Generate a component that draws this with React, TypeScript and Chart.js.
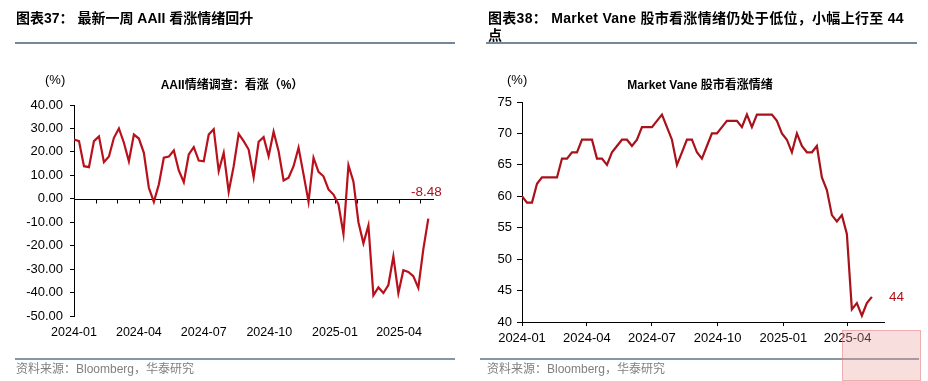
import React, { useEffect, useRef } from "react";
import { Chart, registerables } from "chart.js";

Chart.register(...registerables);

// ---------------- data ----------------
const aaiiStart = "2024-01-01";
const aaiiBullBear = [
  25.3, 24.6, 13.9, 13.5, 24.6, 26.6, 15.6, 18.0, 26.0, 30.0,
  23.9, 16.0, 27.4, 25.7, 19.6, 4.7, -1.3, 6.1, 17.5, 18.0,
  20.6, 12.1, 7.1, 18.9, 22.0, 16.3, 16.0, 27.4, 29.7, 11.8,
  19.6, 3.0, 13.9, 27.7, 24.6, 21.0, 9.2, 24.3, 26.3, 18.2,
  28.6, 20.3, 7.8, 9.0, 13.9, 21.8, 10.4, -1.3, 17.5, 11.5,
  9.6, 4.0, 1.8, -2.4, -15.0, 14.3, 7.3, -10.0, -19.0, -11.4,
  -41.2, -37.8, -40.2, -36.8, -24.6, -40.3, -30.5, -31.2, -33.0, -38.0,
  -21.6, -8.48,
];

const mvStart = "2024-01-01";
const marketVane = [
  60, 59, 59, 62, 63, 63, 63, 63, 66, 66,
  67, 67, 69, 69, 69, 66, 66, 65, 67, 68,
  69, 69, 68, 69, 71, 71, 71, 72, 73, 71,
  69, 65, 67, 69, 69, 67, 66, 68, 70, 70,
  71, 72, 72, 72, 71, 73, 71, 73, 73, 73,
  73, 72, 70, 69, 67, 70, 68, 67, 67, 68,
  63, 61, 57, 56, 57, 54, 42, 43, 41, 43,
  44,
];

const quarterTicks = ["2024-01", "2024-04", "2024-07", "2024-10", "2025-01", "2025-04"];
const monthTicks = [
  "2024-01", "2024-02", "2024-03", "2024-04", "2024-05", "2024-06", "2024-07", "2024-08",
  "2024-09", "2024-10", "2024-11", "2024-12", "2025-01", "2025-02", "2025-03", "2025-04", "2025-05",
];
const aaiiYTicks = [40, 30, 20, 10, 0, -10, -20, -30, -40, -50];
const mvYTicks = [75, 70, 65, 60, 55, 50, 45, 40];

// ---------------- helpers ----------------
const EPOCH = Date.UTC(2024, 0, 1);
function dayOf(s: string): number {
  const [y, m, d] = s.split("-").map(Number);
  return (Date.UTC(y, m - 1, d || 1) - EPOCH) / 86400000;
}
function weekly(start: string, n: number): number[] {
  const s = dayOf(start);
  const out: number[] = [];
  for (let i = 0; i < n; i++) out.push(s + 7 * i);
  return out;
}
function labelOf(v: number): string {
  const hit = quarterTicks.find((q) => Math.abs(dayOf(q) - v) < 0.5);
  return hit || "";
}

const FONT = '"Liberation Sans", "Noto Sans CJK SC", Arial, sans-serif';
const RED_L = "#B8111B";
const RED_R = "#A8121A";

const zeroLine = {
  id: "zeroLine",
  beforeDatasetsDraw(chart: any) {
    const { ctx, chartArea, scales } = chart;
    const x = scales.x;
    const y = scales.y;
    const y0 = Math.round(y.getPixelForValue(0)) + 0.5;
    ctx.save();
    ctx.strokeStyle = "#000";
    ctx.lineWidth = 1;
    ctx.beginPath();
    ctx.moveTo(chartArea.left, y0);
    ctx.lineTo(chartArea.right, y0);
    monthTicks.forEach((m) => {
      const px = Math.round(x.getPixelForValue(dayOf(m))) + 0.5;
      ctx.moveTo(px, y0);
      ctx.lineTo(px, y0 + 4);
    });
    ctx.stroke();
    ctx.restore();
  },
};

function useChart(ref: React.RefObject<HTMLCanvasElement>, make: () => any) {
  useEffect(() => {
    if (!ref.current) return;
    const chart = new Chart(ref.current, make());
    return () => chart.destroy();
  }, []);
}

export default function App() {
  const leftRef = useRef<HTMLCanvasElement>(null);
  const rightRef = useRef<HTMLCanvasElement>(null);

  useChart(leftRef, () => {
    const xs = weekly(aaiiStart, aaiiBullBear.length);
    return {
      type: "line",
      data: {
        datasets: [
          {
            data: aaiiBullBear.map((v, i) => ({ x: xs[i], y: v })),
            borderColor: RED_L,
            borderWidth: 2.2,
            pointRadius: 0,
            tension: 0,
            fill: false,
          },
        ],
      },
      options: {
        responsive: false,
        animation: false,
        layout: { padding: { left: 0, top: 105, right: 30, bottom: 35 } },
        plugins: { legend: { display: false }, tooltip: { enabled: false }, title: { display: false } },
        scales: {
          x: {
            type: "linear",
            min: 0,
            max: 505,
            afterBuildTicks: (s: any) => {
              s.ticks = quarterTicks.map((q) => ({ value: dayOf(q) }));
            },
            afterFit: (s: any) => {
              s.height = 30;
            },
            ticks: {
              autoSkip: false,
              maxRotation: 0,
              padding: 9,
              color: "#000",
              font: { family: FONT, size: 12.5 },
              callback: (v: number) => labelOf(v),
            },
            grid: { display: false, drawTicks: false },
            border: { display: false },
          },
          y: {
            type: "linear",
            min: -50,
            max: 40,
            afterBuildTicks: (s: any) => {
              s.ticks = aaiiYTicks.map((v) => ({ value: v }));
            },
            afterFit: (s: any) => {
              s.width = 74;
            },
            ticks: {
              padding: 7,
              color: "#000",
              font: { family: FONT, size: 13 },
              callback: (v: number) => Number(v).toFixed(2),
            },
            grid: { drawOnChartArea: false, drawTicks: true, tickLength: 4, tickColor: "#000", color: "#000" },
            border: { display: true, color: "#000", width: 1 },
          },
        },
      },
      plugins: [zeroLine],
    };
  });

  useChart(rightRef, () => {
    const xs = weekly(mvStart, marketVane.length);
    return {
      type: "line",
      data: {
        datasets: [
          {
            data: marketVane.map((v, i) => ({ x: xs[i], y: v })),
            borderColor: RED_R,
            borderWidth: 2.2,
            pointRadius: 0,
            tension: 0,
            fill: false,
          },
        ],
      },
      options: {
        responsive: false,
        animation: false,
        layout: { padding: { left: 0, top: 102, right: 44, bottom: 29 } },
        plugins: { legend: { display: false }, tooltip: { enabled: false }, title: { display: false } },
        scales: {
          x: {
            type: "linear",
            min: 0,
            max: 507,
            afterBuildTicks: (s: any) => {
              s.ticks = quarterTicks.map((q) => ({ value: dayOf(q) }));
            },
            afterFit: (s: any) => {
              s.height = 30;
            },
            ticks: {
              autoSkip: false,
              maxRotation: 0,
              padding: 5,
              color: "#000",
              font: { family: FONT, size: 13 },
              callback: (v: number) => labelOf(v),
            },
            grid: { drawOnChartArea: false, drawTicks: true, tickLength: 4, tickColor: "#000", color: "#000" },
            border: { display: true, color: "#000", width: 1 },
          },
          y: {
            type: "linear",
            min: 40,
            max: 75,
            afterBuildTicks: (s: any) => {
              s.ticks = mvYTicks.map((v) => ({ value: v }));
            },
            afterFit: (s: any) => {
              s.width = 58;
            },
            ticks: {
              padding: 5,
              color: "#000",
              font: { family: FONT, size: 13 },
            },
            grid: { drawOnChartArea: false, drawTicks: true, tickLength: 5, tickColor: "#000", color: "#000" },
            border: { display: true, color: "#000", width: 1 },
          },
        },
      },
    };
  });

  const abs = (o: React.CSSProperties): React.CSSProperties => ({ position: "absolute", whiteSpace: "nowrap", ...o });

  return (
    <div style={{ position: "absolute", left: 0, top: 0, width: 928, height: 381, background: "#fff", fontFamily: FONT, overflow: "hidden" }}>
      <canvas ref={leftRef} width={464} height={381} style={{ position: "absolute", left: 0, top: 0, width: 464, height: 381 }} />
      <canvas ref={rightRef} width={464} height={381} style={{ position: "absolute", left: 464, top: 0, width: 464, height: 381 }} />

      {/* headers */}
      <div style={abs({ left: 16, top: 9, fontSize: 14, lineHeight: "18px", fontWeight: 700, color: "#000" })}>
        图表37： 最新一周 AAII 看涨情绪回升
      </div>
      <div style={abs({ left: 488, top: 10, fontSize: 14, lineHeight: "17px", fontWeight: 700, color: "#000", letterSpacing: 0.3 })}>
        图表38： Market Vane 股市看涨情绪仍处于低位，小幅上行至 44
        <br />点
      </div>
      <div style={abs({ left: 15, top: 42, width: 440, height: 2, background: "#75889A" })} />
      <div style={abs({ left: 486, top: 42, width: 431, height: 2, background: "#75889A" })} />

      {/* chart titles and units */}
      <div style={abs({ left: 132, top: 77, width: 200, textAlign: "center", fontSize: 12, lineHeight: "16px", fontWeight: 700, color: "#000" })}>
        AAII情绪调查：看涨（%）
      </div>
      <div style={abs({ left: 600, top: 77, width: 200, textAlign: "center", fontSize: 12, lineHeight: "16px", fontWeight: 700, color: "#000" })}>
        Market Vane 股市看涨情绪
      </div>
      <div style={abs({ left: 45, top: 72, fontSize: 13, lineHeight: "16px", color: "#000" })}>(%)</div>
      <div style={abs({ left: 507, top: 72, fontSize: 13, lineHeight: "16px", color: "#000" })}>(%)</div>

      {/* end labels */}
      <div style={abs({ left: 411, top: 184, fontSize: 13.5, lineHeight: "16px", color: "#B0101A" })}>-8.48</div>
      <div style={abs({ left: 889, top: 289, fontSize: 13.5, lineHeight: "16px", color: "#B0101A" })}>44</div>

      {/* footers */}
      <div style={abs({ left: 15, top: 358, width: 440, height: 1.5, background: "#8596A4" })} />
      <div style={abs({ left: 480, top: 358, width: 439, height: 1.5, background: "#8596A4" })} />
      <div style={abs({ left: 16, top: 362, fontSize: 12, lineHeight: "15px", color: "#7F7F7F" })}>资料来源：Bloomberg，华泰研究</div>
      <div style={abs({ left: 487, top: 362, fontSize: 12, lineHeight: "15px", color: "#7F7F7F" })}>资料来源：Bloomberg，华泰研究</div>

      {/* watermark */}
      <div style={abs({ left: 842, top: 330, width: 79, height: 51, background: "rgba(238,160,160,0.35)", border: "1px solid rgba(225,120,120,0.45)", boxSizing: "border-box" })} />
    </div>
  );
}
